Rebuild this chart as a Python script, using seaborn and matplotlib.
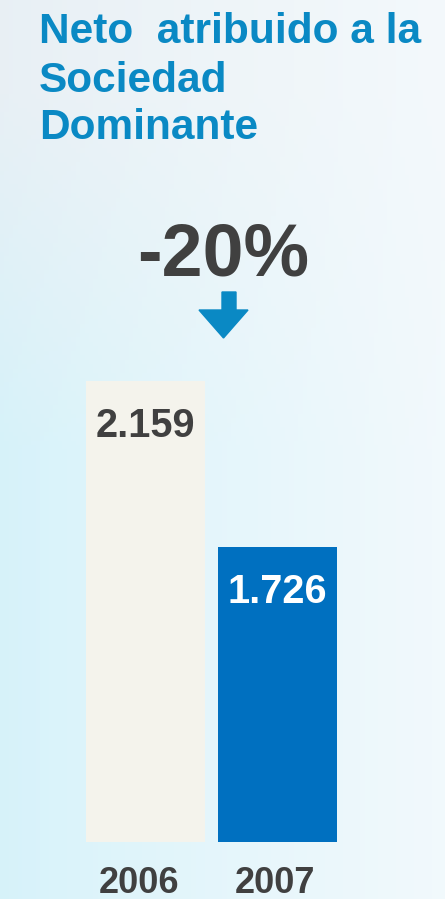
import numpy as np
import pandas as pd
import matplotlib
matplotlib.use("Agg")
import matplotlib.pyplot as plt
import matplotlib.transforms as mtransforms
import seaborn as sns

years = ["2006", "2007"]
values = [2159, 1726]
labels = ["2.159", "1.726"]
bar_colors = ["#f4f3ec", "#0070c0"]
label_colors = ["#404040", "#ffffff"]
change_text = "-20%"
title_lines = ["Neto  atribuido a la", "Sociedad", "Dominante"]

df = pd.DataFrame({"year": years, "value": values})

sns.set_style("white")
plt.rcParams["font.family"] = ["Liberation Sans", "DejaVu Sans"]
plt.rcParams["font.weight"] = "bold"

fig = plt.figure(figsize=(4.45, 8.99), dpi=100)

# soft blue background
bg = fig.add_axes([0, 0, 1, 1], zorder=-10)
yy, xx = np.mgrid[0:1:200j, 0:1:100j]
top = np.array([0.91, 0.94, 0.96])
cyan = np.array([0.84, 0.95, 0.98])
white = np.array([0.96, 0.98, 0.99])
t = np.clip((yy - 0.1) / 0.4, 0, 1)[..., None]
left = top * (1 - t) + cyan * t
w = (xx ** 0.9 * 0.9)[..., None]
img = left * (1 - w) + white * w
bg.imshow(img, aspect="auto", extent=[0, 1, 0, 1], origin="upper")
bg.axis("off")

ax = fig.add_axes([79 / 445, 1 - 842 / 899, 265 / 445, 461 / 899])
ax.patch.set_alpha(0)
sns.barplot(data=df, x="year", y="value", hue="year", palette=bar_colors,
            width=0.9, legend=False, ax=ax, saturation=1, linewidth=0)
ax.set_ylim(957, 2159)
ax.set_xlim(-0.5, 1.5)
sns.despine(ax=ax, left=True, bottom=True)
ax.set_yticks([])
ax.set_xlabel("")
ax.set_ylabel("")
ax.tick_params(axis="x", length=0, pad=17, labelsize=26, labelcolor="#404040")
# year labels sit a little left of the bar centres
for lab, dx in zip(ax.get_xticklabels(), [-6, -2.5]):
    lab.set_transform(lab.get_transform() +
                      mtransforms.ScaledTranslation(dx / 100, 0, fig.dpi_scale_trans))

for i, v in enumerate(values):
    ax.annotate(labels[i], xy=(i, v), xytext=(0, -40), textcoords="offset points",
                ha="center", va="baseline", fontsize=28.5, fontweight="bold",
                color=label_colors[i])

for line, base in zip(title_lines, [43, 92, 139]):
    fig.text(39 / 445, 1 - base / 899, line, ha="left", va="baseline",
             fontsize=30.5, fontweight="bold", color="#0a89c4")

fig.text(223 / 445, 1 - 275 / 899, change_text, ha="center", va="baseline",
         fontsize=53, fontweight="bold", color="#404040")

# down arrow under the percentage
fw, fh = 445, 899
arrow_pts = [(222, 292), (236, 292), (236, 310), (248, 310), (223.5, 338),
             (199, 310), (222, 310)]
arrow = plt.Polygon([(x / fw, 1 - y / fh) for x, y in arrow_pts],
                    closed=True, transform=fig.transFigure, color="#0a89c4")
fig.patches.append(arrow)

fig.savefig("out.png", dpi=100)
